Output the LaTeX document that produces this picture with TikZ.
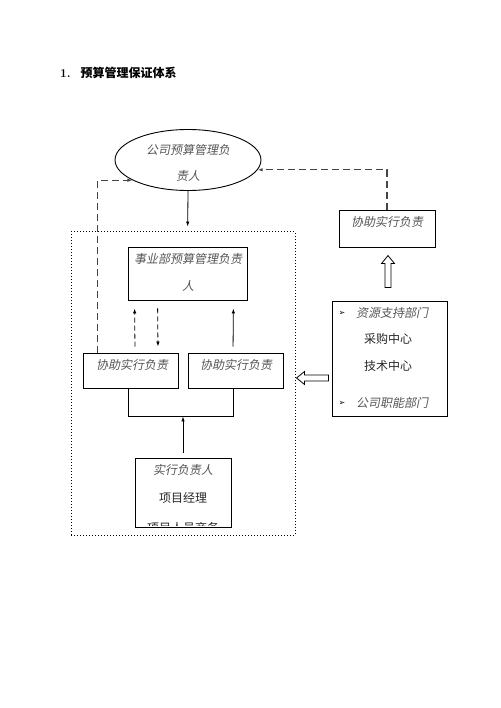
\documentclass[tikz,border=0pt]{standalone}
\usepackage{fontspec}
\newfontfamily\cjk{Noto Sans CJK SC}
\newfontfamily\cjkit[FakeSlant=0.2]{Noto Sans CJK SC}
\newfontfamily\sym{DejaVu Sans}
\usetikzlibrary{arrows.meta,shapes.geometric}
\definecolor{txtgray}{HTML}{555555}
\definecolor{linegray}{HTML}{444444}
\begin{document}
\begin{tikzpicture}[
        x=1pt, y=-1pt,
        box/.style = {draw, line width=0.9pt, inner sep=0pt},
        it/.style = {inner sep=0pt, font=\fontsize{12}{14}\cjkit, text=txtgray},
        up/.style = {inner sep=0pt, font=\fontsize{12}{14}\cjk, text=black!85},
        bul/.style = {inner sep=0pt, font=\fontsize{8}{9}\sym},
        arr/.style = {-{Latex[length=5pt,width=3.5pt]}, line width=0.8pt},
        outdash/.style = {arr, draw=linegray, line width=1.2pt, dash pattern=on 7pt off 4pt},
        indash/.style = {arr, dash pattern=on 5pt off 3pt},
        hollow/.style = {draw, line width=0.8pt, line join=miter}
    ]
        \useasboundingbox (0,0) rectangle (500,708);
        \node[anchor=west, inner sep=0pt, font=\fontsize{12}{14}\selectfont\bfseries] (title) at (60,73)
            {1.\hspace{10pt}{\cjk\bfseries 预算管理保证体系}};
        % boxes
        \node[ellipse, draw, line width=0.9pt, minimum width=146pt, minimum height=61pt] (boss) at (188,160) {};
        \node[it] (boss1) at (188,150) {公司预算管理负};
        \node[it] (boss2) at (188,176) {责人};
        \node[draw, dotted, line width=1pt, minimum width=224pt, minimum height=303pt] (frame) at (183,383.5) {};
        \node[box, minimum width=119pt, minimum height=53pt] (dept) at (187.5,273.5) {};
        \node[it] (dept1) at (188,259) {事业部预算管理负责};
        \node[it] (dept2) at (188,286) {人};
        \node[box, minimum width=95pt, minimum height=35pt] (help1) at (130.5,370.5) {};
        \node[it] (help1t) at (132,365) {协助实行负责};
        \node[box, minimum width=95pt, minimum height=35pt] (help2) at (235.5,370.5) {};
        \node[it] (help2t) at (236,365) {协助实行负责};
        \node[box, minimum width=96pt, minimum height=37pt] (help3) at (387,228.5) {};
        \node[it] (help3t) at (387,222) {协助实行负责};
        \node[box, minimum width=96pt, minimum height=69pt] (proj) at (183,492.5) {};
        \node[it] (proj1) at (183,470) {实行负责人};
        \node[up] (proj2) at (183,498) {项目经理};
        \begin{scope}
            \clip ([yshift=2pt]proj.south west) rectangle (proj.north east);
            \node[up] (proj3) at (183,528) {项目人员商务};
        \end{scope}
        \node[box, minimum width=115pt, minimum height=115pt] (res) at (389.5,358.5) {};
        \node[bul] (b1) at (342,313) {➢};
        \node[it] (res1) at (392,313) {资源支持部门};
        \node[up] (res2) at (388,339) {采购中心};
        \node[up] (res3) at (388,366) {技术中心};
        \node[bul] (b2) at (342,403) {➢};
        \node[it] (res4) at (392,403) {公司职能部门};
        % connectors
        \draw[arr, shorten >=20pt] (boss.south) -- (dept.north);
        \draw[outdash] (help3.north) |- (boss.-8);
        \draw[outdash] ([xshift=15pt]help1.north west) |- (boss.200);
        \draw[indash, shorten <=6pt, shorten >=8pt] ([xshift=4.5pt]help1.north) -- ([xshift=7pt]dept.south west);
        \draw[indash, shorten <=8pt, shorten >=6pt] ([xshift=30pt]dept.south west) -- ([xshift=27.5pt]help1.north);
        \draw[arr, shorten <=6pt, shorten >=8pt] ([xshift=-2.5pt]help2.north) -- ([xshift=-14pt]dept.south east);
        \draw[line width=0.9pt] ([xshift=-2.5pt]help1.south) -- ++(0,28) coordinate (bl) -| ([xshift=-2.5pt]help2.south);
        \draw[arr, shorten <=5pt] (proj.north) -- (proj.north |- bl);
        % hollow arrows
        \coordinate (ua) at ([xshift=-1.5pt,yshift=13pt]res.north);
        \draw[hollow] (ua) ++(-3,0) -- ++(0,-24) -- ++(-3.5,0) -- ++(6.5,-8) -- ++(6.5,8)
            -- ++(-3.5,0) -- ++(0,24) -- cycle;
        \coordinate (la) at ([xshift=-3pt,yshift=-19.5pt]res.west);
        \draw[hollow] (la) ++(0,-3) -- ++(-24,0) -- ++(0,-3.5) -- ++(-8,6.5) -- ++(8,6.5)
            -- ++(0,-3.5) -- ++(24,0) -- cycle;
\end{tikzpicture}
\end{document}
